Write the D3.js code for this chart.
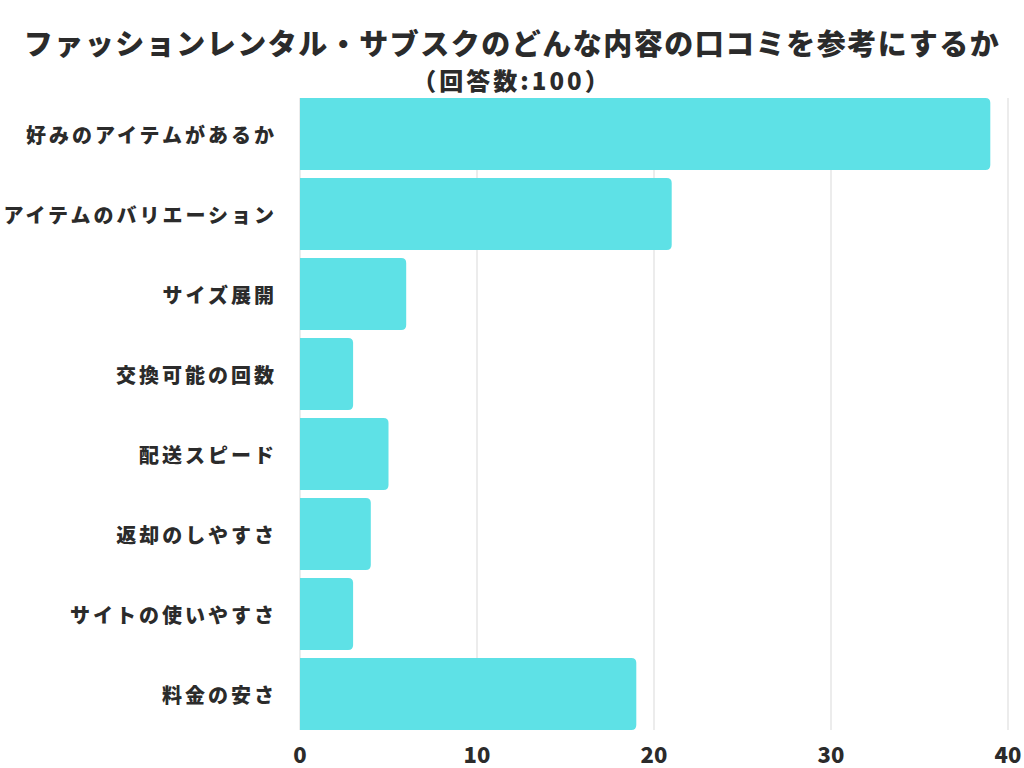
<!DOCTYPE html>
<html><head><meta charset="utf-8">
<script src="https://cdn.jsdelivr.net/npm/d3@7/dist/d3.min.js"></script>
<style>
html,body{margin:0;padding:0;background:#fff;}
text{font-family:"Noto Sans CJK JP","Noto Sans",sans-serif;}
</style></head>
<body>
<svg id="chart" width="1024" height="768"></svg>
<script>
const titleText = "ファッションレンタル・サブスクのどんな内容の口コミを参考にするか";
const subtitleText = "（回答数:100）";
const categories = ["好みのアイテムがあるか","アイテムのバリエーション","サイズ展開","交換可能の回数","配送スピード","返却のしやすさ","サイトの使いやすさ","料金の安さ"];
const values = [39,21,6,3,5,4,3,19];
const tickValues = [0,10,20,30,40];

const svg = d3.select("#chart");
const x = d3.scaleLinear().domain([0,40]).range([300,1008]);
const y = d3.scaleBand().domain(categories).range([90,738]).padding(0.1);
const gridTop = y(categories[0]), gridBottom = y(categories[categories.length-1]) + y.bandwidth();

// grid
svg.append("g").selectAll("line").data(tickValues).join("line")
  .attr("x1", d=>x(d)).attr("x2", d=>x(d))
  .attr("y1", gridTop).attr("y2", gridBottom)
  .attr("stroke", "#e0e0e0").attr("stroke-width", 1.2);

// bars
const r = 5;
svg.append("g").selectAll("path").data(categories).join("path")
  .attr("fill", "#5ee1e6")
  .attr("d", (c,i) => {
    const x0 = x(0), x1 = x(values[i]), y0 = y(c), h = y.bandwidth();
    const rr = Math.min(r, (x1-x0)/2);
    return `M${x0},${y0}H${x1-rr}Q${x1},${y0} ${x1},${y0+rr}V${y0+h-rr}Q${x1},${y0+h} ${x1-rr},${y0+h}H${x0}Z`;
  });

// category labels
svg.append("g").selectAll("text").data(categories).join("text")
  .attr("x", 277).attr("y", c => y(c) + y.bandwidth()/2)
  .attr("text-anchor", "end").attr("dominant-baseline", "central")
  .attr("font-size", 20).attr("font-weight", 900).attr("fill", "#2b2b2b")
  .style("letter-spacing", "3px")
  .text(c => c);

// x ticks
svg.append("g").selectAll("text").data(tickValues).join("text")
  .attr("x", d => x(d)).attr("y", 753)
  .attr("text-anchor", "middle").attr("dominant-baseline", "central")
  .attr("font-size", 22).attr("font-weight", 900).attr("fill", "#2b2b2b")
  .text(d => d);

// title
svg.append("text").attr("x", 512).attr("y", 42)
  .attr("text-anchor", "middle").attr("dominant-baseline", "central")
  .attr("font-size", 29).attr("font-weight", 900).attr("fill", "#2b2b2b")
  .style("letter-spacing", "1.5px")
  .text(titleText);
svg.append("text").attr("x", 512).attr("y", 79)
  .attr("text-anchor", "middle").attr("dominant-baseline", "central")
  .attr("font-size", 24).attr("font-weight", 900).attr("fill", "#2b2b2b")
  .style("letter-spacing", "3px")
  .text(subtitleText);
</script>
</body></html>
